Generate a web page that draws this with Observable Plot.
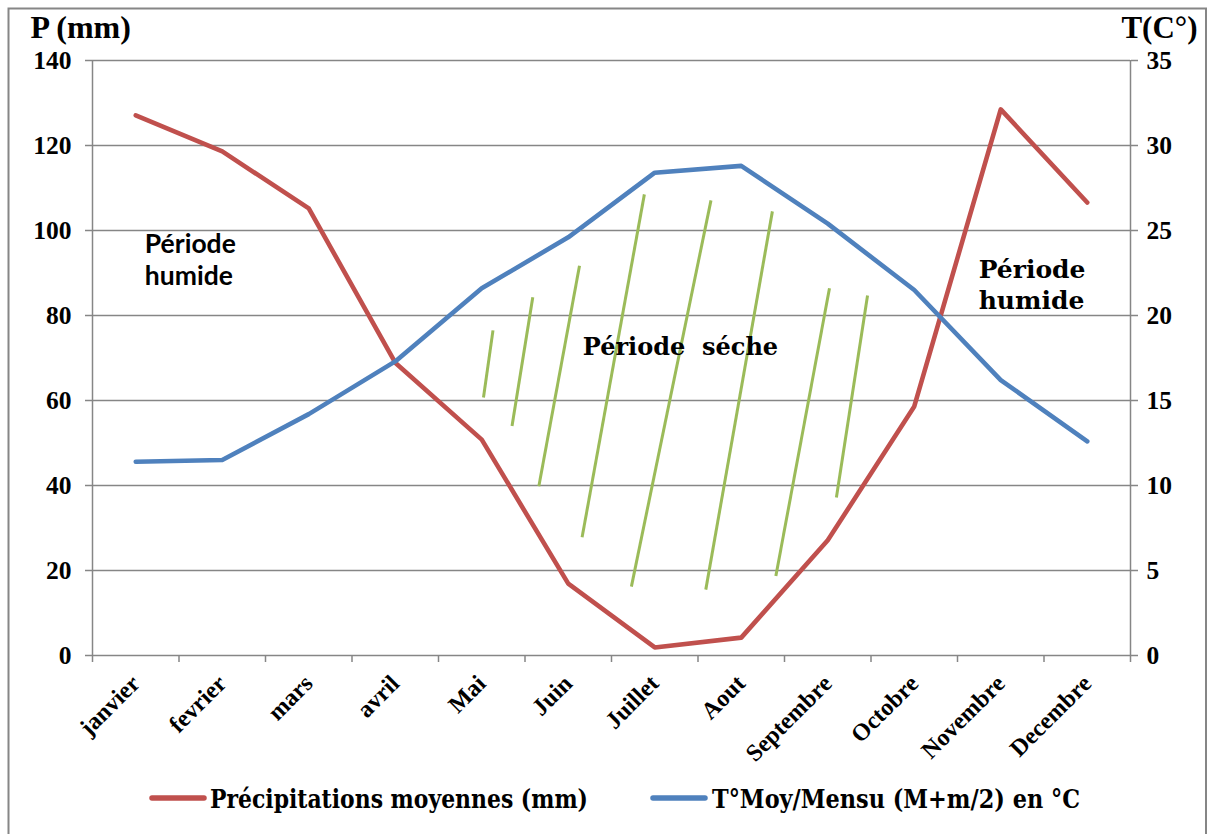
<!DOCTYPE html>
<html><head><meta charset="utf-8">
<script src="https://cdn.jsdelivr.net/npm/d3@7"></script>
<script src="https://cdn.jsdelivr.net/npm/@observablehq/plot@0.6"></script>
<style>
body{margin:0;background:#fff;}
#wrap{position:relative;width:1207px;height:834px;overflow:hidden;background:#fff;}
#wrap svg{position:absolute;left:0;top:0;}
</style></head><body><div id="wrap"></div>
<script>
// ---- data ----
const months = ["janvier","fevrier","mars","avril","Mai","Juin","Juillet","Aout","Septembre","Octobre","Novembre","Decembre"];
const precip = [127.1,118.6,105.2,68.9,50.8,16.9,1.9,4.2,27.1,58.6,128.5,106.6];
const temp   = [11.4,11.5,14.2,17.3,21.6,24.6,28.4,28.8,25.4,21.5,16.2,12.6];
const pTicks = [0,20,40,60,80,100,120,140];
const tTicks = [0,5,10,15,20,25,30,35];
// dry-period hatching (month index, mm)
const hatchX1 = [5.13,5.59,6.13,6.88,7.65,8.36,9.02,9.46];
const hatchY1 = [76.5,84.3,91.7,108.5,107.1,104.5,86.4,84.7];
const hatchX2 = [5.02,5.35,5.66,6.16,6.73,7.59,8.40,9.10];
const hatchY2 = [60.7,54.0,39.8,27.8,16.2,15.5,18.7,37.2];
const seriesNames = ["Précipitations moyennes (mm)","T°Moy/Mensu (M+m/2) en °C"];
const colors = ["#C0504D","#4F81BD"];
const factor = 140/35; // °C -> mm scale

const rows = months.map((m,i)=>({i:i+1, m, p:precip[i], t:temp[i]*factor}));
const hatch = hatchX1.map((x,k)=>({x1:x, y1:hatchY1[k], x2:hatchX2[k], y2:hatchY2[k]}));
const bounds = d3.range(0.5, 13, 1);
const grey = "#868686";

const chart = Plot.plot({
  width:1207, height:834,
  marginLeft:92, marginRight:77, marginTop:60, marginBottom:179,
  style:{fontFamily:"'Liberation Serif', 'Times New Roman', serif", fontWeight:"bold", fontSize:"25px", color:"#000", background:"transparent"},
  x:{domain:[0.5,12.5], axis:null},
  y:{domain:[0,140], axis:null},
  marks:[
    Plot.gridY(pTicks, {stroke:grey, strokeOpacity:1, strokeWidth:1.5}),
    Plot.ruleX([0.5,12.5], {y1:0, y2:140, stroke:grey, strokeWidth:1.5}),
    Plot.axisY(pTicks, {anchor:"left", tickSize:7, tickPadding:14, stroke:grey, strokeWidth:1.5, fill:"#000", label:null, fontSize:25}),
    Plot.axisY(tTicks.map(t=>t*factor), {anchor:"right", tickSize:7, tickPadding:9, stroke:grey, strokeWidth:1.5, fill:"#000", label:null, fontSize:25, tickFormat:d=>d/factor}),
    Plot.axisX(bounds, {anchor:"bottom", tickSize:7, stroke:grey, strokeWidth:1.5, tickFormat:()=>"", label:null}),
    Plot.axisX(rows.map(d=>d.i), {anchor:"bottom", tickSize:0, tickPadding:24, tickRotate:-45, fill:"#000", label:null, fontSize:24, tickFormat:i=>months[i-1]}),
    Plot.link(hatch, {x1:"x1", y1:"y1", x2:"x2", y2:"y2", stroke:"#9BBB59", strokeWidth:3}),
    Plot.line(rows, {x:"i", y:"p", stroke:colors[0], strokeWidth:4.6, strokeLinejoin:"round"}),
    Plot.line(rows, {x:"i", y:"t", stroke:colors[1], strokeWidth:4.6, strokeLinejoin:"round"}),
    Plot.text(["P (mm)"], {text:d=>d, frameAnchor:"top-left", dx:-62, dy:-23, textAnchor:"start", lineAnchor:"bottom", fontSize:32, fill:"#000"}),
    Plot.text(["T(C°)"], {text:d=>d, frameAnchor:"top-right", dx:67, dy:-23, textAnchor:"end", lineAnchor:"bottom", fontSize:31, fill:"#000"}),
    Plot.text(["Période","humide"], {text:d=>d, x:[1.105,1.105], y:[94.8,87.1], textAnchor:"start", lineAnchor:"bottom", fontFamily:"Lato, 'Open Sans', sans-serif", fontSize:26.5, fontWeight:"bold", fill:"#000"}),
    Plot.text(["Période","humide"], {text:d=>d, x:[10.745,10.745], y:[88.9,81.6], textAnchor:"start", lineAnchor:"bottom", fontFamily:"'DejaVu Serif', serif", fontSize:25, fontWeight:"bold", fill:"#000"}),
    Plot.text(["Période  séche"], {text:d=>d, x:[6.168], y:[70.8], textAnchor:"start", lineAnchor:"bottom", fontFamily:"'DejaVu Serif', serif", fontSize:24, fontWeight:"bold", fill:"#000"})
  ]
});
const wrap = document.getElementById("wrap");
wrap.appendChild(chart);
// keep the double space in the dry-period label
d3.select(chart).selectAll("text").filter(function(){return this.textContent.includes("séche");}).style("white-space","pre");
// numeric tick labels: enforce their size
d3.select(chart).selectAll("text").filter(function(){return /^\d+$/.test(this.textContent.trim());})
  .style("font-size","25.5px").style("font-weight","bold");

// overlay: outer frame and legend
const ov = d3.select(wrap).append("svg").attr("width",1207).attr("height",834).style("pointer-events","none");
ov.append("rect").attr("x",8.5).attr("y",8.5).attr("width",1197.5).attr("height",840).attr("fill","none").attr("stroke",grey).attr("stroke-width",2);
const leg = [{x:152, tx:210, w:378},{x:653, tx:712, w:368}];
leg.forEach((l,k)=>{
  ov.append("line").attr("x1",l.x).attr("x2",l.x+52).attr("y1",798).attr("y2",798)
    .attr("stroke",colors[k]).attr("stroke-width",5.5).attr("stroke-linecap","round");
  ov.append("text").attr("x",l.tx).attr("y",808).text(seriesNames[k])
    .attr("font-family","'DejaVu Serif', serif").attr("font-weight","bold").attr("font-size",26)
    .attr("textLength",l.w).attr("lengthAdjust","spacingAndGlyphs").attr("fill","#000");
});
</script></body></html>
